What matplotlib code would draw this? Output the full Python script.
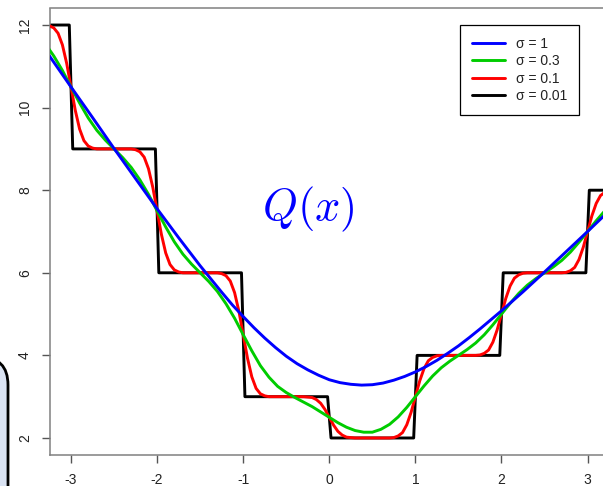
import numpy as np
import matplotlib
matplotlib.use("Agg")
import matplotlib.pyplot as plt
from matplotlib.patches import FancyBboxPatch

plt.rcParams['font.family'] = ['Liberation Sans', 'DejaVu Sans']
plt.rcParams['axes.unicode_minus'] = False
plt.rcParams['mathtext.fontset'] = 'cm'

# Q(x): step function smoothed with gaussian kernels of different width
labels = ['σ = 1', 'σ = 0.3', 'σ = 0.1', 'σ = 0.01']
colors = ['#0000ff', '#00cc00', '#ff0000', '#000000']

# sigma = 1 (denser in the middle where it bends)
blue_x = [-3.25, -3.0, -2.75, -2.5, -2.25, -2.0, -1.75, -1.5, -1.25,
          -1.125, -1.0, -0.875, -0.75, -0.625, -0.5, -0.375, -0.25, -0.125,
          0.0, 0.125, 0.25, 0.375, 0.5, 0.625, 0.75, 0.875, 1.0,
          1.125, 1.25, 1.375, 1.5, 1.625, 1.75,
          2.0, 2.25, 2.5, 2.75, 3.0, 3.25]
blue_y = [11.25, 10.50, 9.76, 9.01, 8.28, 7.55, 6.85, 6.17, 5.53,
          5.22, 4.94, 4.67, 4.42, 4.19, 3.98, 3.80, 3.65, 3.52,
          3.41, 3.34, 3.30, 3.28, 3.29, 3.33, 3.40, 3.49, 3.60,
          3.73, 3.88, 4.05, 4.23, 4.43, 4.64,
          5.08, 5.54, 6.02, 6.51, 7.00, 7.50]

# sigma = 0.3
green_x = [-3.3, -3.2, -3.1, -3.0, -2.9, -2.8, -2.7, -2.6, -2.5, -2.4,
           -2.3, -2.2, -2.1, -2.0, -1.9, -1.8, -1.7, -1.6, -1.5, -1.4,
           -1.3, -1.2, -1.1, -1.0, -0.9, -0.8, -0.7, -0.6, -0.5, -0.4,
           -0.3, -0.2, -0.1, 0.0, 0.1, 0.2, 0.3, 0.4, 0.5, 0.6,
           0.7, 0.8, 0.9, 1.0, 1.1, 1.2, 1.3, 1.4, 1.5, 1.6,
           1.7, 1.8, 1.9, 2.0, 2.1, 2.2, 2.3, 2.4, 2.5, 2.6,
           2.7, 2.8, 2.9, 3.0, 3.1, 3.2, 3.3]
green_y = [11.55, 11.25, 10.90, 10.50, 10.11, 9.75, 9.45, 9.21, 9.00, 8.79,
           8.55, 8.25, 7.90, 7.50, 7.11, 6.75, 6.45, 6.21, 6.00, 5.79,
           5.55, 5.25, 4.90, 4.50, 4.11, 3.75, 3.47, 3.25, 3.10, 2.98,
           2.87, 2.76, 2.63, 2.50, 2.37, 2.26, 2.18, 2.14, 2.14, 2.21,
           2.33, 2.51, 2.74, 3.00, 3.26, 3.50, 3.70, 3.86, 4.00, 4.14,
           4.30, 4.50, 4.74, 5.00, 5.26, 5.50, 5.70, 5.86, 6.00, 6.14,
           6.30, 6.50, 6.74, 7.00, 7.26, 7.50, 7.70]

# sigma = 0.1, sampled around each jump
red_x = [-3.3, -3.25, -3.2, -3.15, -3.1, -3.05, -3.0, -2.95, -2.9, -2.85, -2.8, -2.75, -2.7,
         -2.3, -2.25, -2.2, -2.15, -2.1, -2.05, -2.0, -1.95, -1.9, -1.85, -1.8, -1.75, -1.7,
         -1.3, -1.25, -1.2, -1.15, -1.1, -1.05, -1.0, -0.95, -0.9, -0.85, -0.8, -0.75, -0.7,
         -0.3, -0.25, -0.2, -0.15, -0.1, -0.05, 0.0, 0.05, 0.1, 0.15, 0.2, 0.25, 0.3,
         0.7, 0.75, 0.8, 0.85, 0.9, 0.95, 1.0, 1.05, 1.1, 1.15, 1.2, 1.25, 1.3,
         1.7, 1.75, 1.8, 1.85, 1.9, 1.95, 2.0, 2.05, 2.1, 2.15, 2.2, 2.25, 2.3,
         2.7, 2.75, 2.8, 2.85, 2.9, 2.95, 3.0, 3.05, 3.1, 3.15, 3.2, 3.25, 3.3]
red_y = [12.0, 11.98, 11.93, 11.80, 11.52, 11.07, 10.5, 9.93, 9.48, 9.20, 9.07, 9.02, 9.0,
         9.0, 8.98, 8.93, 8.80, 8.52, 8.07, 7.5, 6.93, 6.48, 6.20, 6.07, 6.02, 6.0,
         6.0, 5.98, 5.93, 5.80, 5.52, 5.07, 4.5, 3.93, 3.48, 3.20, 3.07, 3.02, 3.0,
         3.0, 2.99, 2.98, 2.93, 2.84, 2.69, 2.5, 2.31, 2.16, 2.07, 2.02, 2.01, 2.0,
         2.0, 2.01, 2.05, 2.13, 2.32, 2.62, 3.0, 3.38, 3.68, 3.87, 3.95, 3.99, 4.0,
         4.0, 4.01, 4.05, 4.13, 4.32, 4.62, 5.0, 5.38, 5.68, 5.87, 5.95, 5.99, 6.0,
         6.0, 6.01, 6.05, 6.13, 6.32, 6.62, 7.0, 7.38, 7.68, 7.87, 7.95, 7.99, 8.0]

# sigma = 0.01, practically the raw steps
black_x = [-3.3, -3.02, -2.98, -2.02, -1.98, -1.02, -0.98, -0.02, 0.02,
           0.98, 1.02, 1.98, 2.02, 2.98, 3.02, 3.3]
black_y = [12, 12, 9, 9, 6, 6, 3, 3, 2, 2, 4, 4, 6, 6, 8, 8]

xticks = [-3, -2, -1, 0, 1, 2, 3]
yticks = [2, 4, 6, 8, 10, 12]

W, H = 603, 486
fig = plt.figure(figsize=(W / 100, H / 100), dpi=100)

# axes box runs slightly past the right border
ax = fig.add_axes([50 / W, (H - 454.5) / H, 558.6 / W, 446 / H])

series = [(blue_x, blue_y), (green_x, green_y), (red_x, red_y), (black_x, black_y)]
handles = []
for (xs, ys), lab, col in zip(series, labels, colors):
    ln, = ax.plot(xs, ys, color=col, lw=2.1, label=lab,
                  solid_joinstyle='round', solid_capstyle='round')
    handles.append(ln)
# black underneath, blue on top
for z, ln in enumerate(handles[::-1]):
    ln.set_zorder(2 + z)

ax.set_xlim(-3.244, 3.244)
ax.set_ylim(1.6, 12.4)
ax.set_xticks(xticks)
ax.set_yticks(yticks)
ax.set_xticklabels([str(t) for t in xticks])
ax.set_yticklabels([str(t) for t in yticks])

for s in ['left', 'bottom', 'top', 'right']:
    ax.spines[s].set_color('#808080')
    ax.spines[s].set_linewidth(1.1)
ax.tick_params(axis='both', direction='out', length=6, width=1,
               color='#555555', labelcolor='#222222', labelsize=10)
ax.tick_params(axis='x', pad=7)
ax.tick_params(axis='y', pad=7, labelrotation=90)
for lbl in ax.get_yticklabels():
    lbl.set_va('center')

ax.text(-0.24, 7.53, r'$Q(x)$', color='#0000ff', fontsize=32,
        ha='center', va='center')

leg = ax.legend(handles=handles, loc='upper right',
                bbox_to_anchor=(579 / W, (H - 25) / H),
                bbox_transform=fig.transFigure, borderaxespad=0,
                fontsize=10, handlelength=2.35, handletextpad=0.8,
                labelspacing=0.25, borderpad=0.85, fancybox=False,
                framealpha=1, edgecolor='black')
leg.get_frame().set_linewidth(0.9)
for t in leg.get_texts():
    t.set_color('#222222')

# rounded panel peeking in at the lower left
panel = FancyBboxPatch((-0.6, -0.3), 0.68, 1.59,
                       boxstyle='round,pad=0,rounding_size=0.28',
                       transform=fig.dpi_scale_trans,
                       facecolor='#dae3f3', edgecolor='black', lw=2,
                       clip_on=False)
fig.patches.append(panel)

fig.savefig('out.png', dpi=100)
